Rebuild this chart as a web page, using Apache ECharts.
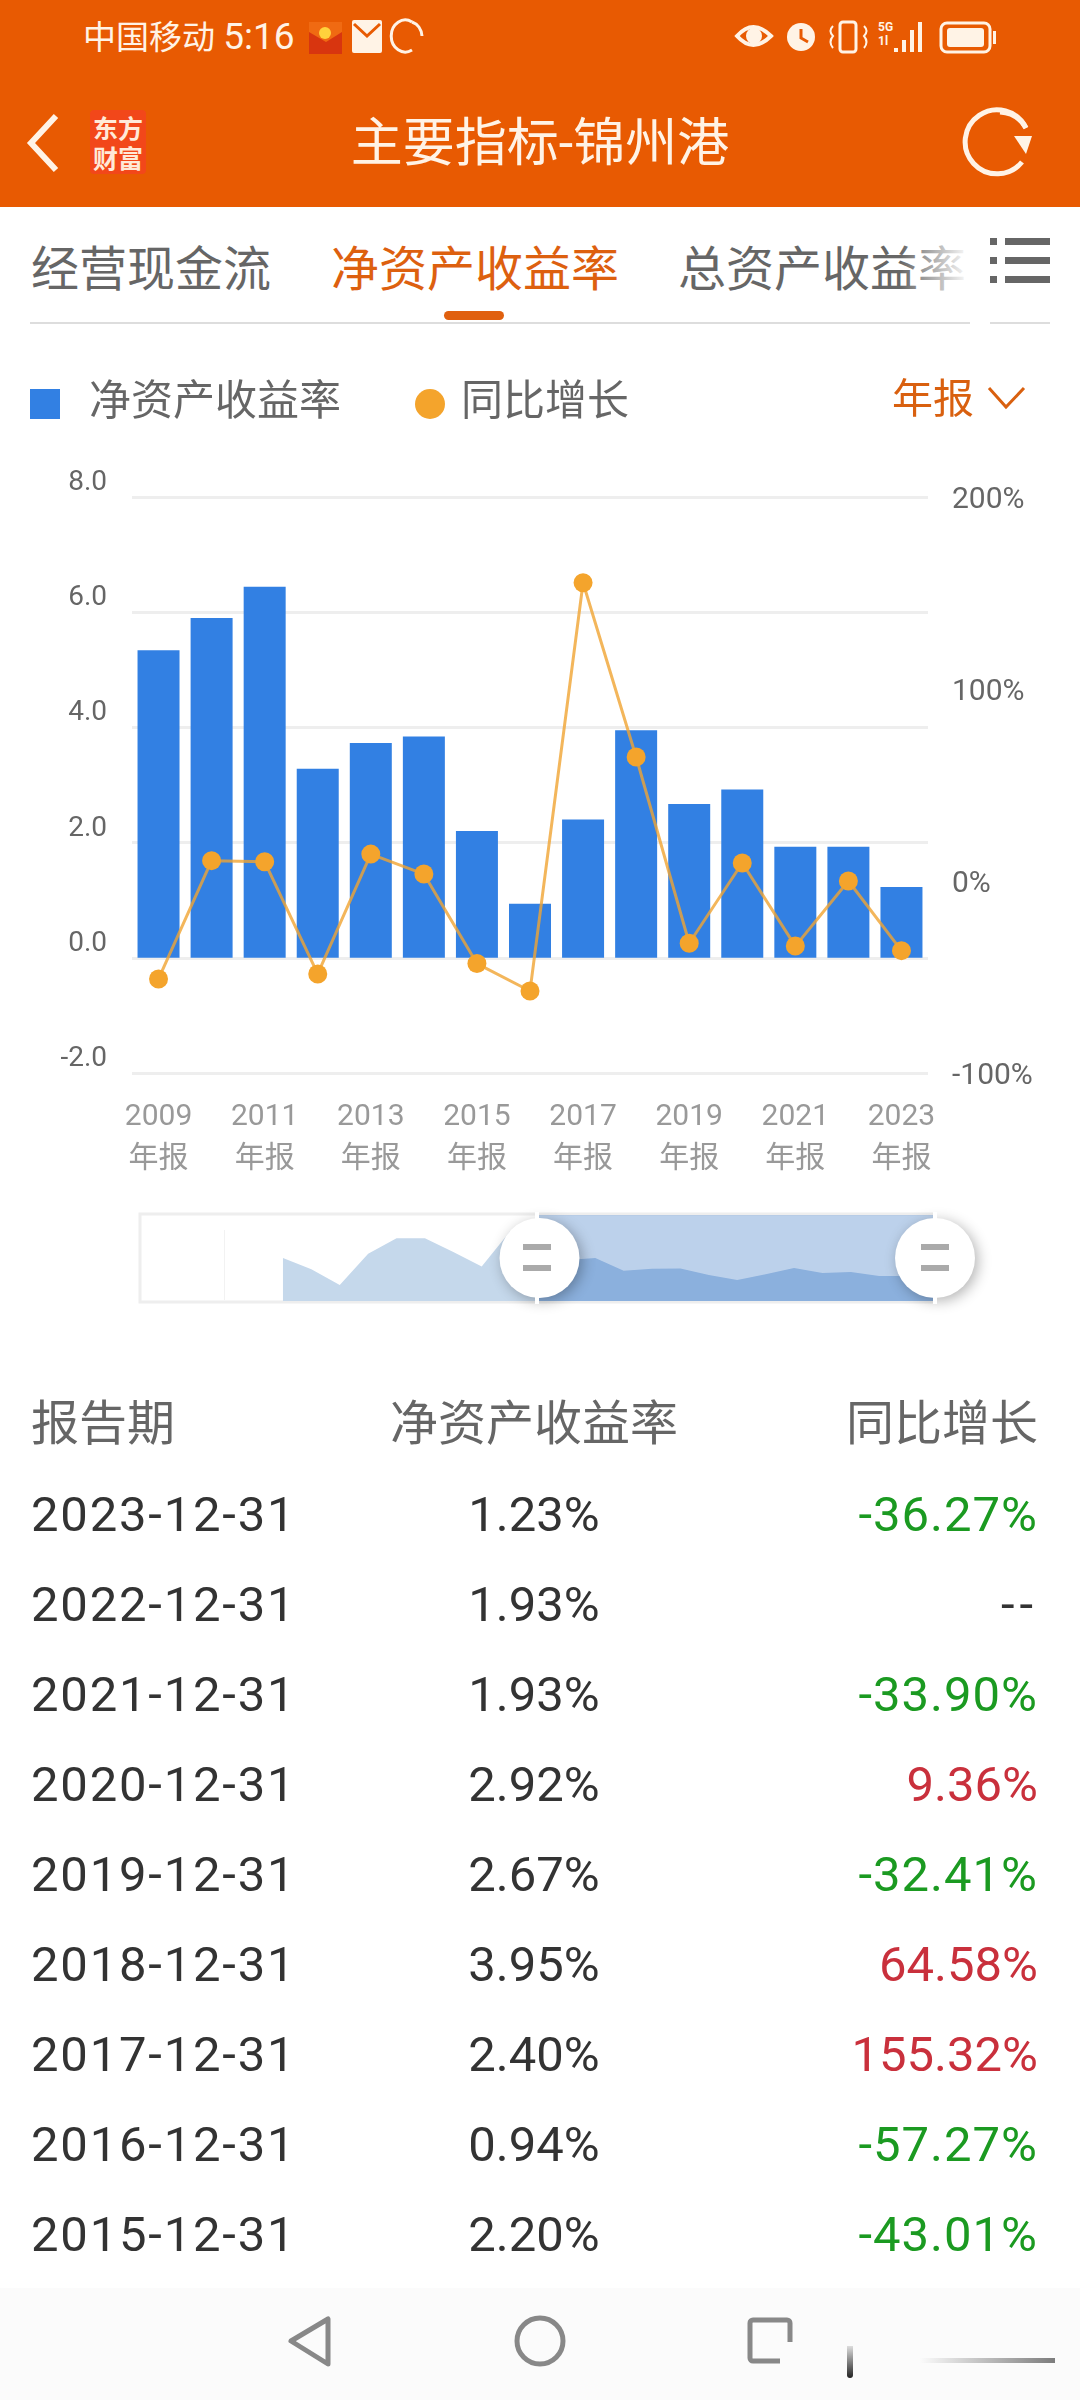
<!DOCTYPE html>
<html lang="zh">
<head>
<meta charset="utf-8">
<title>主要指标-锦州港</title>
<script src="https://cdn.jsdelivr.net/npm/echarts@6/dist/echarts.min.js"></script>
<style>
  html, body { margin: 0; padding: 0; background: #fff; }
  #page { position: relative; width: 1080px; height: 2400px; overflow: hidden; font-family: Roboto, "Noto Sans CJK SC", sans-serif; }
  #page div { position: absolute; white-space: nowrap; }
  #head { left: 0; top: 0; width: 1080px; height: 207px; background: #e85a02; }
  #grafico { position: absolute; left: 0; top: 340px; width: 1080px; height: 1000px; }
  #tabela { left: 0; top: 0; width: 1080px; height: 2400px; }
  .tab { top: 239px; font-size: 48px; line-height: 62px; color: #666; }
  .cel { font-size: 49px; line-height: 60px; color: #333; }
  .dat { letter-spacing: 1.8px; }
  .neg { letter-spacing: 1px; }
  .vaz { letter-spacing: 5px; }
  .tit { font-size: 48px; line-height: 60px; color: #666; }
  .c2 { left: 334px; width: 400px; text-align: center; }
  .c3 { right: 42px; text-align: right; }
</style>
</head>
<body>
<div id="page">
  <div id="head"></div>
  <div style="left:83px;top:14px;font-size:33px;line-height:46px;color:#fff3e6">中国移动 <span style="font-size:37px">5:16</span></div>
  <div style="left:229px;top:124px;width:622px;text-align:center;font-size:52px;line-height:40px;color:#fff3e6">主要指标-锦州港</div>
  <div style="left:90px;top:110px;width:56px;height:64px;background:#f2471a;border-radius:4px"></div>
  <div style="left:90px;top:112px;width:56px;text-align:center;font-size:25px;line-height:30px;font-weight:700;color:#ffe9d8;font-family:'Noto Sans CJK SC'">东方<br>财富</div>

  <svg style="position:absolute;left:0;top:0" width="1080" height="207" fill="none" stroke="#fff3e6">
    <path d="M56 116 L31 143 L56 170" stroke-width="6"/>
    <path d="M1026 128 A32 32 0 1 0 1022 162" stroke-width="5"/>
    <path d="M1000 112 A32 32 0 0 1 1026 128" stroke-width="5"/>
    <path d="M1014 136 L1032 136 L1026 154 Z" fill="#fff3e6" stroke="none"/>
    <rect x="309" y="30" width="33" height="24" fill="#d8350f" stroke="none"/>
    <path d="M309 22 L342 22 L342 32 L326 42 L309 32 Z" fill="#f06a12" stroke="none"/>
    <circle cx="325" cy="33" r="6" fill="#ffd23c" stroke="none"/>
    <rect x="352" y="20" width="30" height="33" rx="2" fill="#fff3e6" stroke="none"/>
    <path d="M354 24 L367 36 L380 24" stroke="#e85a02" stroke-width="3"/>
    <path d="M412 22 A14 16 0 1 0 412 50" stroke-width="3"/>
    <path d="M412 22 A14 16 0 0 1 422 36" stroke-width="3"/>
    <path d="M737 36 Q753 18 771 36 Q753 54 737 36 Z" stroke-width="4"/>
    <circle cx="754" cy="36" r="8" fill="#fff3e6" stroke="none"/>
    <circle cx="801" cy="37" r="14" fill="#fff3e6" stroke="none"/>
    <path d="M801 29 L801 38 L808 42" stroke="#e85a02" stroke-width="3"/>
    <rect x="840" y="22" width="16" height="30" rx="3" stroke-width="3"/>
    <path d="M833 26 Q828 31 833 36 Q828 42 833 48 M864 26 Q869 31 864 36 Q869 42 864 48" stroke-width="2"/>
    <path d="M896 48 L896 52 M904 40 L904 52 M912 30 L912 52 M920 22 L920 52" stroke-width="4"/>
    <rect x="941" y="23" width="49" height="29" rx="6" stroke-width="3"/>
    <rect x="947" y="28" width="37" height="19" rx="3" fill="#fff3e6" stroke="none"/>
    <rect x="993" y="31" width="3" height="13" fill="#fff3e6" stroke="none"/>
  </svg>
  <div style="left:878px;top:20px;font-size:12px;line-height:14px;font-weight:700;color:#fff3e6">5G<br>1l</div>

  <div class="tab" style="left:31px">经营现金流</div>
  <div class="tab" style="left:331px;color:#dd600f">净资产收益率</div>
  <div class="tab" style="left:678px">总资产收益率</div>
  <div style="left:900px;top:230px;width:70px;height:70px;background:linear-gradient(90deg,rgba(255,255,255,0),#fff)"></div>
  <div style="left:444px;top:311px;width:60px;height:9px;border-radius:5px;background:#e0600f"></div>
  <div style="left:30px;top:322px;width:940px;height:2px;background:#ddd"></div>
  <div style="left:990px;top:322px;width:60px;height:2px;background:#ddd"></div>
  <svg style="position:absolute;left:990px;top:236px" width="60" height="48" fill="#666">
    <rect x="0" y="2" width="7" height="7"/><rect x="15" y="2" width="45" height="7"/>
    <rect x="0" y="21" width="7" height="7"/><rect x="15" y="21" width="45" height="7"/>
    <rect x="0" y="40" width="7" height="7"/><rect x="15" y="40" width="45" height="7"/>
  </svg>

  <div id="grafico"></div>

  <div style="left:892px;top:373px;font-size:41px;line-height:52px;color:#d9600f;z-index:5">年报</div>
  <svg style="position:absolute;left:986px;top:384px;z-index:5" width="42" height="28" fill="none" stroke="#d9600f" stroke-width="3"><path d="M3 4 L20 23 L38 4"/></svg>

  <div id="tabela"></div>

  <div style="left:0;top:2288px;width:1080px;height:112px;background:#fbfbfb"></div>
  <svg style="position:absolute;left:0;top:2288px" width="1080" height="112" fill="none" stroke="#888" stroke-width="5">
    <path d="M328 31 L328 76 L291 53 Z" stroke-linejoin="round"/>
    <circle cx="540" cy="53" r="23"/>
    <rect x="750" y="32" width="40" height="41" rx="3"/>
  </svg>
  <div style="left:780px;top:2342px;width:275px;height:36px;background:#fbfbfb"></div>
  <div style="left:920px;top:2358px;width:135px;height:5px;background:linear-gradient(90deg,rgba(120,120,120,0),rgba(70,70,70,.7))"></div>
  <div style="left:847px;top:2346px;width:6px;height:32px;border-radius:0 0 3px 3px;background:linear-gradient(180deg,#ddd,#222)"></div>
</div>

<script>
// categorias: o eixo começa em 1995, o slider mostra 2009-2023
var anos = ['1995','1996','1997','1998','1999','2000','2001','2002','2003','2004','2005','2006','2007','2008',
  '2009','2010','2011','2012','2013','2014','2015','2016','2017','2018','2019','2020','2021','2022','2023'];
// 1995-2008 lidos da sombra do slider (estimados)
var retornoAntigo = [null, null, null, null, null, 6.44, 3.6, -0.25, 7.46, 11.3, 11.3, 7.9, 4.3, 13.1];
var retornoVisivel = [5.34, 5.90, 6.44, 3.28, 3.73, 3.84, 2.20, 0.94, 2.40, 3.95, 2.67, 2.92, 1.93, 1.93, 1.23];
var crescimentoAntigo = [null, null, null, null, null, null, null, null, null, null, null, null, null, null];
var crescimentoVisivel = [-51, 10.6, 10, -48.4, 14, 3.6, -43.01, -57.27, 155.32, 64.58, -32.41, 9.36, -33.90, 0, -36.27];

var ticksEsquerda = { min: -2, max: 8, interval: 2 };
var ticksDireita = { min: -100, max: 200, interval: 100 };

// tabela
var tabelaDatas = ['2023-12-31','2022-12-31','2021-12-31','2020-12-31','2019-12-31','2018-12-31','2017-12-31','2016-12-31','2015-12-31'];
var tabelaRetorno = ['1.23%','1.93%','1.93%','2.92%','2.67%','3.95%','2.40%','0.94%','2.20%'];
var tabelaCrescimento = ['-36.27%','--','-33.90%','9.36%','-32.41%','64.58%','155.32%','-57.27%','-43.01%'];

function montarTabela() {
    var html = '<div class="tit" style="left:31px;top:1394px">报告期</div>'
        + '<div class="tit c2" style="top:1394px">净资产收益率</div>'
        + '<div class="tit c3" style="top:1394px">同比增长</div>';
    tabelaDatas.forEach(function (data, i) {
        var topo = 1485 + i * 90;
        var txt = tabelaCrescimento[i];
        var cor = '#c9303c', classe = '';
        if (txt === '--') { cor = '#333'; classe = ' vaz'; }
        else if (txt.charAt(0) === '-') { cor = '#1b9a21'; classe = ' neg'; }
        html += '<div class="cel dat" style="left:31px;top:' + topo + 'px">' + data + '</div>'
            + '<div class="cel c2" style="top:' + topo + 'px">' + tabelaRetorno[i] + '</div>'
            + '<div class="cel c3' + classe + '" style="top:' + topo + 'px;color:' + cor + '">' + txt + '</div>';
    });
    document.getElementById('tabela').innerHTML = html;
}

function iniciarGrafico() {
    var grafico = echarts.init(document.getElementById('grafico'));
    var fonte = 'Roboto, "Noto Sans CJK SC", sans-serif';

    var option = {
        animation: false,
        textStyle: { fontFamily: fonte },
        legend: {
            left: 30, top: 43, padding: 0, itemWidth: 30, itemHeight: 30, itemGap: 74, selectedMode: false,
            textStyle: { fontSize: 42, color: '#666', padding: [0, 0, 8, 24] },
            data: [
                { name: '净资产收益率', icon: 'rect' },
                { name: '同比增长', icon: 'circle', textStyle: { fontSize: 42, color: '#666', padding: [0, 0, 8, 11] } }
            ]
        },
        grid: { left: 132, right: 152, top: 157, height: 576 },
        xAxis: {
            type: 'category', data: anos,
            axisLine: { show: false }, axisTick: { show: false },
            axisLabel: {
                interval: 1, margin: 23, fontSize: 30, lineHeight: 42, color: '#999',
                hideOverlap: false,
                formatter: function (v) { return v + '\n年报'; }
            }
        },
        yAxis: [{
            type: 'value', min: ticksEsquerda.min, max: ticksEsquerda.max, interval: ticksEsquerda.interval,
            axisLine: { show: false }, axisTick: { show: false },
            axisLabel: {
                margin: 25, fontSize: 28, color: '#666', verticalAlign: 'bottom',
                formatter: function (v) { return v.toFixed(1); }
            },
            splitLine: { lineStyle: { color: '#eeeeee', width: 3 } }
        }, {
            type: 'value', min: ticksDireita.min, max: ticksDireita.max, interval: ticksDireita.interval,
            axisLine: { show: false }, axisTick: { show: false },
            axisLabel: {
                margin: 24, color: '#666',
                formatter: function (v) { return '{p|' + v + '%}'; },
                rich: { p: { fontSize: 30, color: '#666', padding: [6, 0, 0, 0] } }
            },
            splitLine: { show: false }
        }],
        dataZoom: [{
            type: 'slider', xAxisIndex: 0, startValue: '2009', endValue: '2023',
            left: 140, right: 145, top: 875, height: 86,
            showDetail: false, brushSelect: false, moveHandleSize: 0,
            backgroundColor: 'transparent', borderColor: 'transparent', borderRadius: 0,
            fillerColor: 'rgba(121,163,215,0.5)',
            dataBackground: { lineStyle: { opacity: 0 }, areaStyle: { color: '#c5d8eb', opacity: 1 } },
            selectedDataBackground: { lineStyle: { opacity: 0 }, areaStyle: { color: '#9dbce2', opacity: 1 } },
            handleIcon: 'circle', handleSize: 80,
            handleStyle: { color: '#fff', borderWidth: 0, shadowBlur: 14, shadowColor: 'rgba(0,0,0,0.3)', shadowOffsetX: 3, shadowOffsetY: 3 }
        }],
        graphic: [
            // moldura e enfeites do slider
            { type: 'rect', z: 0, shape: { x: 140, y: 874, width: 795, height: 88 }, style: { fill: 'none', stroke: '#eeeeee', lineWidth: 3 } },
            { type: 'rect', z: 0, shape: { x: 224, y: 890, width: 1, height: 70 }, style: { fill: '#f2f2f2' } },
            { type: 'rect', z: 100, shape: { x: 535, y: 872, width: 4, height: 92 }, style: { fill: '#fff' } },
            { type: 'rect', z: 100, shape: { x: 933, y: 872, width: 4, height: 92 }, style: { fill: '#fff' } },
            { type: 'rect', z: 101, shape: { x: 523, y: 904, width: 28, height: 6 }, style: { fill: '#aaa' } },
            { type: 'rect', z: 101, shape: { x: 523, y: 925, width: 28, height: 6 }, style: { fill: '#aaa' } },
            { type: 'rect', z: 101, shape: { x: 921, y: 904, width: 28, height: 6 }, style: { fill: '#aaa' } },
            { type: 'rect', z: 101, shape: { x: 921, y: 925, width: 28, height: 6 }, style: { fill: '#aaa' } }
        ],
        series: [{
            name: '净资产收益率', type: 'bar', barWidth: 42,
            itemStyle: { color: '#3280e3' },
            data: retornoAntigo.concat(retornoVisivel)
        }, {
            name: '同比增长', type: 'line', yAxisIndex: 1,
            symbol: 'circle', symbolSize: 19, showAllSymbol: true,
            itemStyle: { color: '#f4a42c' },
            lineStyle: { color: '#f0a432', width: 3, opacity: 0.8 },
            data: crescimentoAntigo.concat(crescimentoVisivel)
        }]
    };
    grafico.setOption(option);
}

montarTabela();
iniciarGrafico();
</script>
</body>
</html>
